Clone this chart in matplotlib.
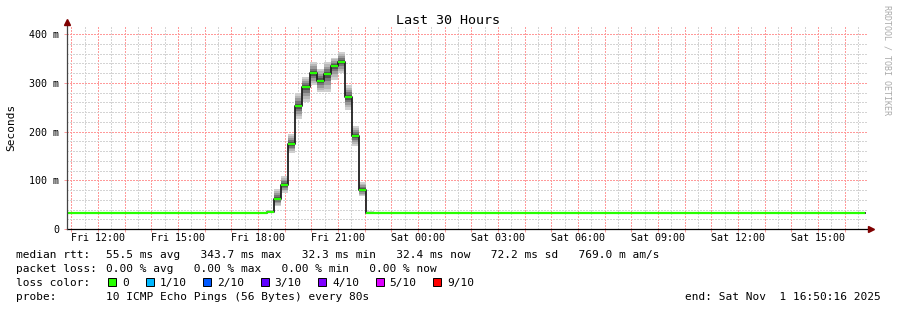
import matplotlib
matplotlib.use('Agg')
import matplotlib.pyplot as plt
import numpy as np
from matplotlib.patches import Rectangle

plt.rcParams['font.family'] = 'DejaVu Sans Mono'

# time axis in hours since Fri 00:00, graph ends Sat 16:50:16
t_start = 10.838
t_end = 40.838

# step edges of the consolidated rtt data (hours since Fri 00:00)
edges_h = [10.838, 17.600, 17.867, 18.333, 18.600, 18.867, 19.133, 19.400,
           19.667, 19.933, 20.200, 20.467, 20.733, 21.000, 21.267, 21.533,
           21.800, 22.067, 22.333, 40.750]
# median rtt per step, ms
median_ms = [32.3, 33.5, 32.3, 35.0, 62.0, 90.0, 174.0, 252.0, 292.0, 319.0,
             304.0, 317.0, 335.0, 343.0, 271.0, 191.0, 80.0, 33.5, 32.3]
# smoke range (min / max ping) per step, ms
low_ms = [32.3, 33.0, 32.3, 33.0, 47.0, 74.0, 156.0, 226.0, 260.0, 295.0,
          281.0, 281.0, 306.0, 320.0, 244.0, 170.0, 68.0, 32.5, 32.3]
high_ms = [32.3, 34.5, 32.3, 39.0, 82.0, 109.0, 195.0, 279.0, 312.0, 343.0,
           328.0, 343.0, 351.0, 363.0, 295.0, 211.0, 96.0, 36.0, 32.3]

xtick_hours = [12, 15, 18, 21, 24, 27, 30, 33, 36, 39]
xtick_labels = ['Fri 12:00', 'Fri 15:00', 'Fri 18:00', 'Fri 21:00', 'Sat 00:00',
                'Sat 03:00', 'Sat 06:00', 'Sat 09:00', 'Sat 12:00', 'Sat 15:00']
ytick_vals = [0, 100, 200, 300, 400]
ytick_labels = ['0', '100 m', '200 m', '300 m', '400 m']

loss_labels = ['0', '1/10', '2/10', '3/10', '4/10', '5/10', '9/10']
loss_colors = ['#26ff00', '#00b8ff', '#0059ff', '#5e00ff', '#7e00ff', '#dd00ff', '#ff0000']

W, H = 897, 310
fig = plt.figure(figsize=(W / 100, H / 100), dpi=100)
fig.patch.set_facecolor('white')
ax = fig.add_axes([67 / W, 1 - 229 / H, 800 / W, (229 - 26) / H])
ax.set_xlim(t_start, t_end)
ax.set_ylim(0, (229 - 26) / 0.4875)

# grid
ax.set_xticks(np.arange(11, 41, 1))
ax.set_xticks(np.arange(11.5, 41, 1), minor=True)
ax.set_yticks(ytick_vals)
ax.set_yticks(np.arange(20, 420, 20), minor=True)
lab = {h: l for h, l in zip(xtick_hours, xtick_labels)}
ax.set_xticklabels([lab.get(h, '') for h in range(11, 41)])
ax.set_yticklabels(ytick_labels)
ax.grid(which='major', color='#ff9a9a', linestyle=(0, (2, 2)), lw=0.72, antialiased=False)
ax.grid(which='minor', color='#d4d4d4', linestyle=(0, (2, 2)), lw=0.72, antialiased=False)
ax.set_axisbelow(True)
ax.tick_params(which='major', length=2, width=0.7, color='#ff9a9a', labelsize=7.2, pad=1.2)
ax.tick_params(which='minor', length=0)
ax.tick_params(axis='y', pad=3.5)
for s in ax.spines.values():
    s.set_visible(False)

# smoke
m = np.array(median_ms)
lo = np.array(low_ms)
hi = np.array(high_ms)
fracs = [1.0, 0.8, 0.6, 0.4, 0.2]
shades = ['#d0d0d0', '#b8b8b8', '#9a9a9a', '#767676', '#505050']
for f, c in zip(fracs, shades):
    y1 = m - f * (m - lo)
    y2 = m + f * (hi - m)
    ax.fill_between(edges_h, np.append(y1, y1[-1]), np.append(y2, y2[-1]),
                    step='post', color=c, lw=0)

# median line and loss colour
ax.step(edges_h, np.append(m, m[-1]), where='post', color='#202020', lw=1.3)
ax.hlines(m, edges_h[:-1], edges_h[1:], color=loss_colors[0], lw=1.6)

# axes with arrows
ax.plot([0, 1 + 4 / 800], [0, 0], color='black', lw=0.9, transform=ax.transAxes, clip_on=False)
ax.plot([0, 0], [0, 1 + 3 / 203], color='#444444', lw=0.9, transform=ax.transAxes, clip_on=False)
ax.plot([1 + 4 / 800], [0], marker='>', ms=5, color='#7f0000', transform=ax.transAxes, clip_on=False)
ax.plot([0], [1 + 4 / 203], marker='^', ms=5, color='#7f0000', transform=ax.transAxes, clip_on=False)

# texts
def fx(x):
    return x / W

def fy(y):
    return 1 - y / H

fig.text(fx(448), fy(24), 'Last 30 Hours', ha='center', va='baseline', fontsize=9.6)
fig.text(fx(11), fy(127), 'Seconds', rotation=90, ha='center', va='center', fontsize=8)
fig.text(fx(887), fy(60), 'RRDTOOL / TOBI OETIKER', rotation=270, ha='center', va='center',
         fontsize=6, color='#aaaaaa')

fs = 8
cw = 6.69
fig.text(fx(16), fy(258), 'median rtt:', fontsize=fs, va='baseline')
fig.text(fx(106), fy(258), '55.5 ms avg   343.7 ms max   32.3 ms min   32.4 ms now   72.2 ms sd   769.0 m am/s',
         fontsize=fs, va='baseline')
fig.text(fx(16), fy(272), 'packet loss:', fontsize=fs, va='baseline')
fig.text(fx(106), fy(272), '0.00 % avg   0.00 % max   0.00 % min   0.00 % now', fontsize=fs, va='baseline')
fig.text(fx(16), fy(286), 'loss color:', fontsize=fs, va='baseline')
bx = 108.3
for lbl, col in zip(loss_labels, loss_colors):
    fig.add_artist(Rectangle((fx(bx), fy(286)), 8 / W, 8 / H, transform=fig.transFigure,
                             facecolor=col, edgecolor='black', lw=0.7))
    fig.text(fx(bx + 14), fy(286), lbl, fontsize=fs, va='baseline')
    bx = bx + 14 + len(lbl) * cw + 16.7
fig.text(fx(16), fy(300), 'probe:', fontsize=fs, va='baseline')
fig.text(fx(106), fy(300), '10 ICMP Echo Pings (56 Bytes) every 80s', fontsize=fs, va='baseline')
fig.text(fx(880.5), fy(300), 'end: Sat Nov  1 16:50:16 2025', fontsize=fs, va='baseline', ha='right')

fig.savefig('out.png', dpi=100)
